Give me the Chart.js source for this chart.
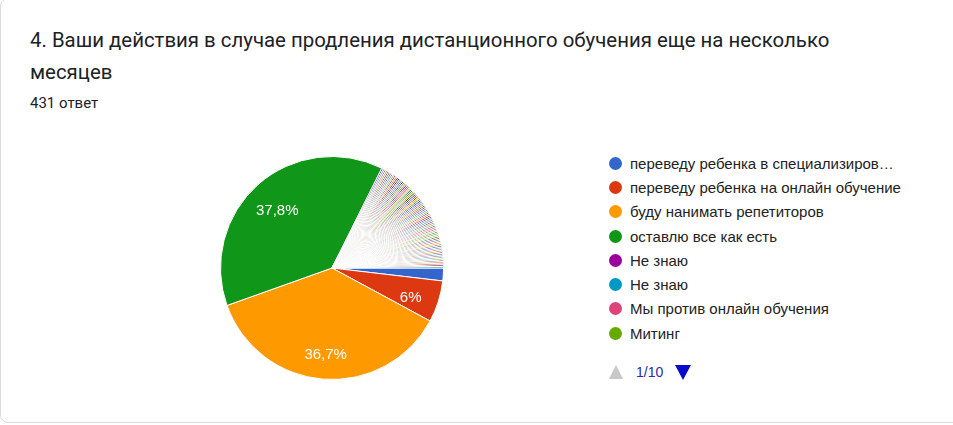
<!DOCTYPE html>
<html>
<head>
<meta charset="utf-8">
<script src="https://cdn.jsdelivr.net/npm/chart.js"></script>
<style>
  html, body { margin: 0; padding: 0; background: #fff; }
  body { width: 953px; height: 425px; overflow: hidden; position: relative; font-family: "Liberation Sans", Arial, sans-serif; }
  .card { position: absolute; left: 0; top: -2px; width: 970px; height: 425px; border: 1px solid #dadce0; border-radius: 8px; box-sizing: border-box; }
  .title { position: absolute; left: 30px; top: 24px; width: 850px; font-family: Roboto, "Open Sans", sans-serif; font-size: 20.4px; line-height: 32px; color: #202124; }
  .count { position: absolute; left: 30px; top: 93px; font-family: Roboto, sans-serif; font-size: 15px; line-height: 20px; color: #202124; }
  #pieBox { position: absolute; left: 218px; top: 154px; width: 228px; height: 228px; }
  #legend { position: absolute; left: 609px; top: 151px; }
  .item { height: 24.3px; display: flex; align-items: center; font-size: 15px; color: #222; white-space: nowrap; }
  .dot { width: 13px; height: 13px; border-radius: 50%; margin-right: 8px; flex: none; }
  .pager { position: absolute; left: 609px; top: 364px; display: flex; align-items: center; font-size: 14px; color: #2a2ab0; }
  .up { width: 0; height: 0; border-left: 7px solid transparent; border-right: 7px solid transparent; border-bottom: 14px solid #c8c8c8; margin-right: 13px; }
  .down { width: 0; height: 0; border-left: 8px solid transparent; border-right: 8px solid transparent; border-top: 15px solid #0a0acc; margin-left: 12px; }
</style>
</head>
<body>
<div class="card"></div>
<div class="title">4. Ваши действия в случае продления дистанционного обучения еще на несколько месяцев</div>
<div class="count">431 ответ</div>
<div id="pieBox"><canvas id="pie"></canvas></div>
<div id="legend"></div>
<div class="pager"><div class="up"></div><span>1/10</span><div class="down"></div></div>
<script>
// first legend page (8 of 80 answers)
var categories = [
  "переведу ребенка в специализиров…",
  "переведу ребенка на онлайн обучение",
  "буду нанимать репетиторов",
  "оставлю все как есть",
  "Не знаю",
  "Не знаю",
  "Мы против онлайн обучения",
  "Митинг"
];
var counts = [8, 26, 158, 163, 1, 1, 1, 1];
// remaining 72 single answers (legend pages 2-10)
var otherCounts = [
  1, 1, 1, 1, 1, 1, 1, 1, 1, 1, 1, 1,
  1, 1, 1, 1, 1, 1, 1, 1, 1, 1, 1, 1,
  1, 1, 1, 1, 1, 1, 1, 1, 1, 1, 1, 1,
  1, 1, 1, 1, 1, 1, 1, 1, 1, 1, 1, 1,
  1, 1, 1, 1, 1, 1, 1, 1, 1, 1, 1, 1,
  1, 1, 1, 1, 1, 1, 1, 1, 1, 1, 1, 1
];
var totalAnswers = 431;

var palette = ['#3366cc','#dc3912','#ff9900','#109618','#990099','#0099c6','#dd4477','#66aa00',
  '#b82e2e','#316395','#994499','#22aa99','#aaaa11','#6633cc','#e67300','#8b0707','#651067',
  '#329262','#5574a6','#3b3eac','#b77322','#16d620','#b91383','#f4359e','#9c5935','#a9c413',
  '#2a778d','#668d1c','#bea413','#0c5922','#743411'];

var labels = categories.slice();
otherCounts.forEach(function (v, i) { labels.push('Ответ ' + (categories.length + i + 1)); });
var values = counts.concat(otherCounts);
var colors = values.map(function (v, i) { return palette[i % palette.length]; });

// percentage labels for slices >= 5%
var pctLabels = {
  id: 'pctLabels',
  afterDatasetsDraw: function (chart) {
    var ctx = chart.ctx;
    var meta = chart.getDatasetMeta(0);
    ctx.save();
    ctx.fillStyle = '#fff';
    ctx.font = '15px "Liberation Sans", Arial, sans-serif';
    ctx.textAlign = 'center';
    ctx.textBaseline = 'middle';
    meta.data.forEach(function (arc, i) {
      var share = values[i] / totalAnswers * 100;
      if (share < 5) return;
      var mid = (arc.startAngle + arc.endAngle) / 2;
      var d = arc.outerRadius * 0.74;
      var txt = (Math.round(share * 10) / 10).toString().replace('.', ',') + '%';
      ctx.fillText(txt, arc.x + Math.cos(mid) * d, arc.y + Math.sin(mid) * d + 5);
    });
    ctx.restore();
  }
};

new Chart(document.getElementById('pie'), {
  type: 'pie',
  data: {
    labels: labels,
    datasets: [{
      data: values,
      backgroundColor: colors,
      borderColor: '#fff',
      borderWidth: 1
    }]
  },
  options: {
    responsive: true,
    maintainAspectRatio: false,
    animation: false,
    rotation: 90,
    layout: { padding: 2 },
    plugins: { legend: { display: false }, tooltip: { enabled: false } }
  },
  plugins: [pctLabels]
});

var legend = document.getElementById('legend');
categories.forEach(function (c, i) {
  var row = document.createElement('div');
  row.className = 'item';
  row.innerHTML = '<span class="dot" style="background:' + colors[i] + '"></span>' + c;
  legend.appendChild(row);
});
</script>
</body>
</html>
